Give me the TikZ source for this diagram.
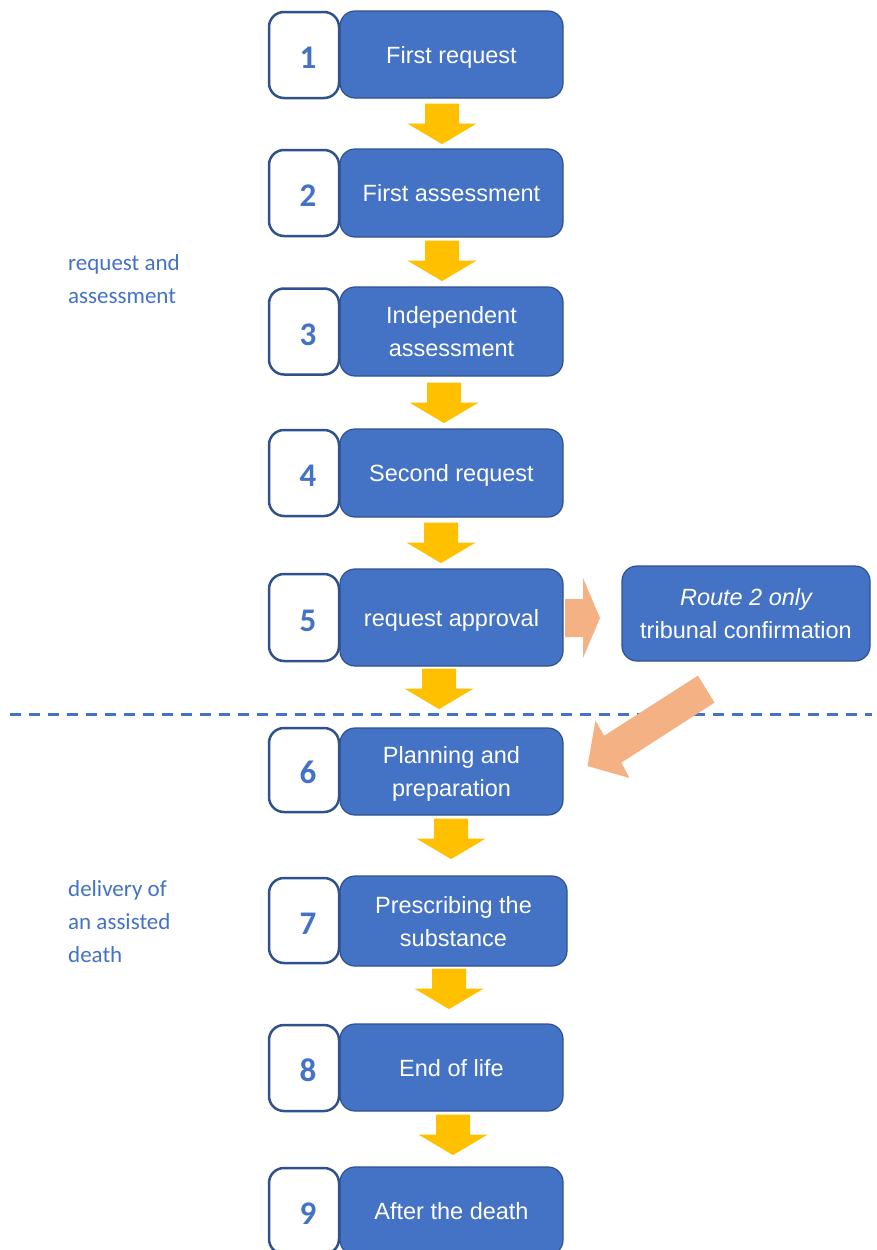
\documentclass[tikz,border=0pt]{standalone}
\usepackage{fontspec}
\setmainfont{Liberation Sans}
\newfontfamily\calibri{Carlito}
\usetikzlibrary{calc}
\definecolor{boxblue}{HTML}{4472C4}
\definecolor{boxedge}{HTML}{2F528F}
\definecolor{arrowyellow}{HTML}{FFC000}
\definecolor{arroworange}{HTML}{F4B183}
\tikzset{
  mainbox/.style={rounded corners=15pt, fill=boxblue, draw=boxedge, line width=1.2pt,
    text=white, font=\fontsize{23.5}{33}\selectfont, align=center, inner sep=0pt,
    minimum width=223pt, text depth=0pt},
  numbox/.style={rounded corners=15pt, fill=white, draw=boxedge, line width=2.5pt,
    text=boxblue, font=\calibri\bfseries\fontsize{33}{33}\selectfont, inner sep=0pt,
    minimum width=70pt, text height=27pt, text depth=0pt,
    execute at begin node=\hspace*{8pt}},
  sidelabel/.style={text=boxblue, font=\calibri\fontsize{23}{33}\selectfont,
    align=left, inner sep=0pt, anchor=base west},
  downarr/.pic={\fill[arrowyellow] (-17,0) -- (17,0) -- (17,20) -- (34.5,20) -- (0,40.5)
    -- (-34.5,20) -- (-17,20) -- cycle;}
}
\begin{document}
\begin{tikzpicture}[x=1pt,y=-1pt]
\useasboundingbox (0,0) rectangle (877,1250);
\fill[white] (0,0) rectangle (877,1250);

% dashed separator
\coordinate (dl) at (10,714);
\coordinate (dr) at (872,714);
\draw[boxblue, line width=3pt, dash pattern=on 11pt off 8pt] (dl) -- (dr);

% main boxes
\node[mainbox, minimum height=87pt] (m1) at (451.5,54.5) {First request};
\node[mainbox, minimum height=88pt] (m2) at (451.5,193) {First assessment};
\node[mainbox, minimum height=89pt] (m3) at (451.5,331.5) {Independent\\assessment};
\node[mainbox, minimum height=88pt] (m4) at (451.5,473) {Second request};
\node[mainbox, minimum height=97pt] (m5) at (451.5,617.5) {request approval};
\node[mainbox, minimum height=87pt] (m6) at (451.5,771.5) {Planning and\\preparation};
\node[mainbox, minimum height=90pt, minimum width=227pt] (m7) at (453.5,921) {Prescribing the\\substance};
\node[mainbox, minimum height=87pt] (m8) at (451.5,1067.5) {End of life};
\node[mainbox, minimum height=88pt] (m9) at (451.5,1211) {After the death};

% number boxes
\node[numbox, minimum height=86pt] (n1) at (304,55) {1};
\node[numbox, minimum height=86pt] (n2) at (304,193) {2};
\node[numbox, minimum height=86pt] (n3) at (304,331.5) {3};
\node[numbox, minimum height=86pt] (n4) at (304,473) {4};
\node[numbox, minimum height=87pt] (n5) at (304,617.5) {5};
\node[numbox, minimum height=84pt] (n6) at (304,770) {6};
\node[numbox, minimum height=85pt] (n7) at (304,920.5) {7};
\node[numbox, minimum height=86pt] (n8) at (304,1068) {8};
\node[numbox, minimum height=86pt] (n9) at (304,1211) {9};

% route 2 box
\node[mainbox, minimum width=248pt, minimum height=95pt] (r2) at (746,613.5)
  {\itshape Route 2 only\\tribunal confirmation};

% side labels (anchor at baseline of last line)
\node[sidelabel] (lab1) at (68,303) {request and\\assessment};
\node[sidelabel] (lab2) at (68,962) {delivery of\\an assisted\\death};

% yellow arrows
\pic at ($(m1.south)+(-9.5,5)$) {downarr};
\pic at ($(m2.south)+(-9.5,3)$) {downarr};
\pic at ($(m3.south)+(-7.5,6)$) {downarr};
\pic at ($(m4.south)+(-10.5,5)$) {downarr};
\pic at ($(m5.south)+(-12.5,2)$) {downarr};
\pic at ($(m6.south)+(-0.5,3)$) {downarr};
\pic at ($(m7.south)+(-4.5,2)$) {downarr};
\pic at ($(m8.south)+(1.5,3)$) {downarr};

% orange arrows
\fill[arroworange] (565,599) -- (583,599) -- (583,578) -- (600,618) -- (583,658)
  -- (583,637) -- (565,637) -- cycle;
\fill[arroworange] (697.9,675.6) -- (604.1,735.8) -- (595.5,720.5) -- (587.5,766)
  -- (629.5,778) -- (621.3,762.6) -- (714.5,702.6) -- cycle;
\end{tikzpicture}
\end{document}
